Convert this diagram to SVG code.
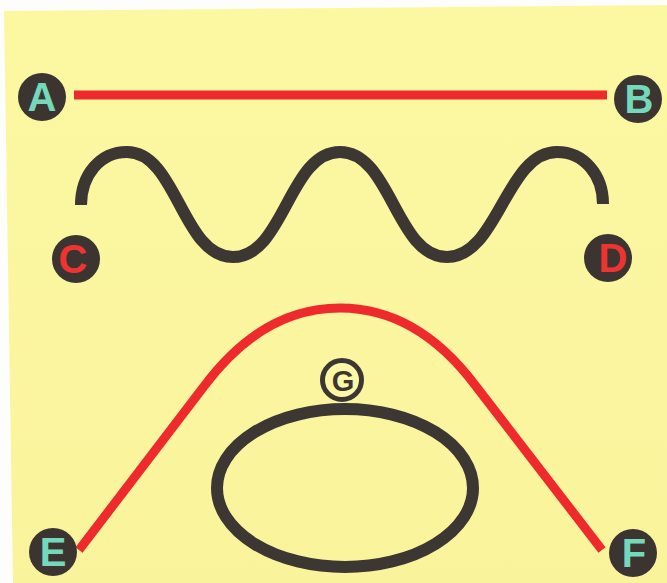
<svg xmlns="http://www.w3.org/2000/svg" width="667" height="583" viewBox="0 0 667 583">
  <defs>
    <linearGradient id="bg" x1="0" y1="0" x2="0" y2="1">
      <stop offset="0" stop-color="#fcf8a2"/>
      <stop offset="1" stop-color="#f9f49c"/>
    </linearGradient>
    <style>
      .node { fill: #3b3431; }
      .lbl { font-family: "Liberation Sans", Arial, sans-serif; font-weight: bold; font-size: 40px; text-anchor: middle; }
      .teal { fill: #74d8bb; }
      .red { fill: #ef3430; }
      .redline { fill: none; stroke: #ee2a2c; stroke-width: 9; }
      .dark { fill: none; stroke: #3d3733; stroke-width: 12; }
    </style>
  </defs>
  <rect x="0" y="0" width="667" height="583" fill="#fdfdfb"/>
  <polygon points="4,11 667,5 667,583 13,583" fill="url(#bg)"/>

  <g id="connectors">
    <line class="redline" x1="74" y1="95" x2="607" y2="95"/>
    <path class="dark" d="M 81 205 C 81 175, 100 152, 127 152 C 177 152, 182 257, 233 257 C 284 257, 289 152, 340 152 C 391 152, 396 257, 447 257 C 498 257, 506 152, 557 152 C 584 152, 603 175, 603 204"/>
    <path class="redline" d="M 79 550 L 205 385 C 245 332, 290 308, 340 308 C 390 308, 435 332, 475 385 L 602 550"/>
    <ellipse class="dark" cx="345" cy="488" rx="128" ry="79"/>
  </g>

  <g id="A">
    <circle class="node" cx="42" cy="97" r="24"/>
    <text class="lbl teal" x="42" y="111">A</text>
  </g>
  <g id="B">
    <circle class="node" cx="638" cy="99" r="24"/>
    <text class="lbl teal" x="639" y="113">B</text>
  </g>
  <g id="C">
    <circle class="node" cx="76" cy="259" r="24"/>
    <text class="lbl red" x="73" y="273">C</text>
  </g>
  <g id="D">
    <circle class="node" cx="608" cy="258" r="24"/>
    <text class="lbl red" x="613" y="272">D</text>
  </g>
  <g id="E">
    <circle class="node" cx="53" cy="552" r="24"/>
    <text class="lbl teal" x="53" y="566">E</text>
  </g>
  <g id="F">
    <circle class="node" cx="633" cy="553" r="24"/>
    <text class="lbl teal" x="634" y="567">F</text>
  </g>
  <g id="G">
    <circle cx="342" cy="380" r="19.5" fill="#fcf8a6" stroke="#3d3733" stroke-width="5"/>
    <text class="lbl" x="343" y="390.5" fill="#3d3733" style="font-size:29px">G</text>
  </g>
</svg>
